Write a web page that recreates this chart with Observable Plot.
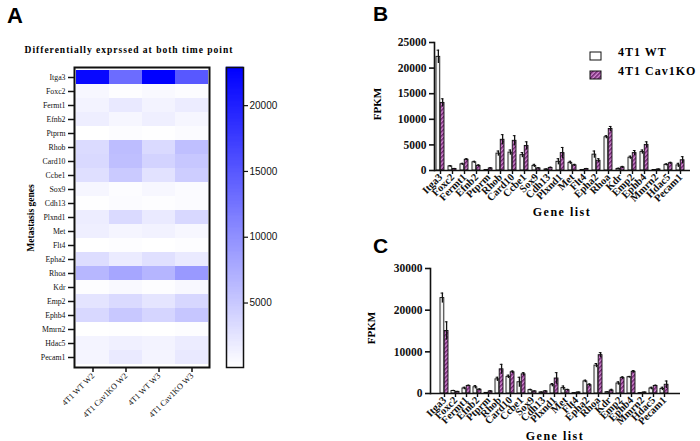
<!DOCTYPE html>
<html>
<head>
<meta charset="utf-8">
<script src="https://cdn.jsdelivr.net/npm/d3@7"></script>
<script src="https://cdn.jsdelivr.net/npm/@observablehq/plot@0.6"></script>
<style>
  html, body { margin: 0; padding: 0; background: #fff; }
  #fig { position: relative; width: 700px; height: 441px; overflow: hidden; background: #fff; }
  .abs { position: absolute; }
</style>
</head>
<body>
<svg width="0" height="0" style="position:absolute">
  <defs>
    <pattern id="hatch" patternUnits="userSpaceOnUse" width="3" height="3" patternTransform="rotate(45)">
      <rect width="3" height="3" fill="#d08ad0"></rect>
      <rect width="1.5" height="3" fill="#6e226e"></rect>
    </pattern>
  </defs>
</svg>
<div id="fig"></div>
<script>
// ---------- data ----------
const genes = ["Itga3","Foxc2","Fermt1","Efnb2","Ptprm","Rhob","Card10","Ccbe1","Sox9","Cdh13","Plxnd1","Met","Flt4","Epha2","Rhoa","Kdr","Emp2","Ephb4","Mmrn2","Hdac5","Pecam1"];
const heatColumns = ["4T1 WT W2","4T1 Cav1KO W2","4T1 WT W3","4T1 Cav1KO W3"];
const groups = ["4T1 WT","4T1 Cav1KO"];

// Panel B (W2)
const wtW2    = [22200, 800, 1200, 1600, 100, 3300, 3500, 3000, 900, 200, 1700, 1500, 100, 3100, 6500, 300, 2500, 3600, 100, 1100, 1000];
const wtW2Err = [1300, 150, 200, 200, 100, 500, 500, 500, 300, 100, 600, 300, 100, 700, 300, 150, 300, 400, 50, 200, 400];
const koW2    = [13200, 300, 2100, 900, 400, 6000, 5800, 4800, 400, 500, 3400, 1000, 300, 1900, 8100, 600, 3400, 5000, 200, 1400, 2000];
const koW2Err = [800, 100, 200, 200, 150, 1000, 1000, 800, 150, 150, 1100, 200, 100, 400, 500, 200, 500, 600, 80, 200, 700];

// Panel C (W3)
const wtW3    = [22900, 600, 1200, 1500, 150, 3400, 4000, 2700, 800, 250, 2000, 1300, 100, 2900, 6700, 300, 2400, 3900, 100, 1200, 1100];
const wtW3Err = [1200, 150, 300, 400, 50, 500, 400, 1200, 200, 100, 400, 500, 50, 300, 500, 100, 400, 200, 50, 300, 400];
const koW3    = [15000, 400, 1800, 900, 500, 5800, 5100, 4600, 500, 500, 3600, 800, 250, 2000, 9200, 700, 3700, 5200, 250, 1800, 2100];
const koW3Err = [2200, 100, 200, 200, 150, 1200, 300, 400, 100, 150, 1400, 200, 80, 300, 600, 300, 300, 300, 80, 200, 900];

const ticksB = [0, 5000, 10000, 15000, 20000, 25000];
const ticksC = [0, 10000, 20000, 30000];
const legendTicks = [5000, 10000, 15000, 20000];

// ---------- helpers ----------
const fig = document.getElementById("fig");
function place(node, left, top) {
  const d = document.createElement("div");
  d.className = "abs";
  d.style.left = left + "px";
  d.style.top = top + "px";
  d.appendChild(node);
  fig.appendChild(d);
  return d;
}
function text(str, left, top, css) {
  const d = document.createElement("div");
  d.className = "abs";
  d.textContent = str;
  d.style.left = left + "px";
  d.style.top = top + "px";
  Object.assign(d.style, css || {});
  fig.appendChild(d);
  return d;
}

// ---------- Panel A: heatmap ----------
const cells = [];
const heatSeries = [wtW2, koW2, wtW3, koW3];
genes.forEach((g, i) => heatColumns.forEach((c, j) => cells.push({gene: g, col: c, value: heatSeries[j][i]})));
const vmin = d3.min(cells, d => d.value);
const vmax = d3.max(cells, d => d.value);
const colorOpts = {type: "linear", domain: [vmin, vmax], range: ["#ffffff", "#0000ff"], interpolate: "rgb"};

const heat = Plot.plot({
  width: 215, height: 441,
  marginLeft: 74, marginRight: 6, marginTop: 67, marginBottom: 74,
  style: {background: "transparent", overflow: "visible", fontFamily: "Liberation Serif, serif", color: "#111"},
  x: {domain: heatColumns, padding: 0, axis: null},
  y: {domain: genes, padding: 0, axis: null},
  color: colorOpts,
  marks: [
    Plot.cell(cells, {x: "col", y: "gene", fill: "value"}),
    Plot.frame({stroke: "#111", strokeWidth: 2}),
    Plot.axisY({tickSize: 6, tickPadding: 3, fontSize: 7.8, strokeWidth: 1.5, label: null}),
    Plot.axisX({tickSize: 5, tickPadding: 2, tickRotate: -45, fontSize: 8.3, strokeWidth: 1.5, label: null})
  ]
});
place(heat, 0, 0);

// colour bar
const nStops = 300;
const stops = d3.range(nStops + 1).map(i => vmin + (vmax - vmin) * i / nStops);
const bar = Plot.plot({
  width: 100, height: 441,
  marginLeft: 26, marginRight: 57, marginTop: 67, marginBottom: 74,
  style: {background: "transparent", overflow: "visible", fontFamily: "Liberation Sans, Arial, sans-serif", color: "#111"},
  y: {domain: [vmin, vmax], axis: null},
  color: colorOpts,
  marks: [
    Plot.rect(stops.slice(0, -1), {y1: d => d, y2: (d, i) => stops[i + 1], fill: d => d, stroke: d => d, strokeWidth: 0.6}),
    Plot.frame({stroke: "#111", strokeWidth: 1.5}),
    Plot.axisY({anchor: "right", ticks: legendTicks, tickSize: 4, tickPadding: 2, fontSize: 10, tickFormat: d => String(d), label: null, strokeWidth: 1.2})
  ]
});
place(bar, 200, 0);

text("Differentially exprssed at both time point", 0, 45, {width: "258px", textAlign: "center", fontFamily: "Liberation Serif, serif", fontWeight: "bold", fontSize: "9.5px", letterSpacing: "1px", whiteSpace: "nowrap"});
text("Metastasis genes", 31, 218, {fontFamily: "Liberation Serif, serif", fontWeight: "bold", fontSize: "9.5px", transform: "translate(-50%,-50%) rotate(-90deg)", whiteSpace: "nowrap"});

// ---------- Panels B and C: grouped bars ----------
function barPanel(wt, wtErr, ko, koErr, o) {
  const rows = genes.map((g, i) => ({gene: g, wt: wt[i], wtErr: wtErr[i], ko: ko[i], koErr: koErr[i]}));
  const half = o.band / 2;
  return Plot.plot({
    width: o.width, height: o.height,
    marginLeft: o.ml, marginRight: o.mr, marginTop: o.mt, marginBottom: o.mb,
    style: {background: "transparent", overflow: "visible", fontFamily: "Liberation Serif, serif", fontWeight: "bold", color: "#111"},
    x: {domain: genes, paddingInner: 0.3, paddingOuter: 0, insetRight: o.insetRight, axis: null},
    y: {domain: [0, o.yMax], axis: null},
    marks: [
      Plot.rectY(rows, {x: "gene", y: "wt", fill: "#f4f4f4", stroke: "#111", strokeWidth: 0.9, insetRight: half}),
      Plot.rectY(rows, {x: "gene", y: "ko", fill: "url(#hatch)", stroke: "#111", strokeWidth: 0.9, insetLeft: half}),
      Plot.ruleX(rows, {x: "gene", y1: d => d.wt - d.wtErr, y2: d => d.wt + d.wtErr, dx: -half / 2, stroke: "#111", strokeWidth: 1.3}),
      Plot.ruleX(rows, {x: "gene", y1: d => d.ko - d.koErr, y2: d => d.ko + d.koErr, dx: half / 2, stroke: "#111", strokeWidth: 1.3}),
      Plot.tickY(rows, {x: "gene", y: d => d.wt + d.wtErr, insetLeft: 0.6, insetRight: half + 0.6, stroke: "#111", strokeWidth: 1}),
      Plot.tickY(rows, {x: "gene", y: d => d.ko + d.koErr, insetLeft: half + 0.6, insetRight: 0.6, stroke: "#111", strokeWidth: 1}),
      Plot.ruleY([0], {stroke: "#111", strokeWidth: 1.6}),
      Plot.frame({anchor: "left", stroke: "#111", strokeWidth: 1.6}),
      Plot.axisY({ticks: o.ticks, tickSize: 5, tickPadding: 3, fontSize: 11.5, tickFormat: d => String(d), label: null, strokeWidth: 1.6, style: {letterSpacing: "0.8px"}}),
      Plot.axisX({tickSize: 4, tickPadding: 1, tickRotate: -45, fontSize: 10.5, label: null, strokeWidth: 1.4})
    ]
  });
}

const plotB = barPanel(wtW2, wtW2Err, koW2, koW2Err, {width: 340, height: 220, ml: 74, mr: 10, mt: 42, mb: 50, insetRight: 4, band: 8.5, yMax: 25000, ticks: ticksB});
place(plotB, 360, 0);
const plotC = barPanel(wtW3, wtW3Err, koW3, koW3Err, {width: 340, height: 221, ml: 70, mr: 20, mt: 48, mb: 48, insetRight: 2.5, band: 8.4, yMax: 30000, ticks: ticksC});
place(plotC, 360, 220);

// axis titles
const titleCss = {fontFamily: "Liberation Serif, serif", fontWeight: "bold", fontSize: "12px", letterSpacing: "1.5px", transform: "translate(-50%,-50%)", whiteSpace: "nowrap"};
text("Gene list", 562, 212, titleCss);
text("Gene list", 555, 436, titleCss);
const fpkmCss = {fontFamily: "Liberation Serif, serif", fontWeight: "bold", fontSize: "11px", transform: "translate(-50%,-50%) rotate(-90deg)", whiteSpace: "nowrap"};
text("FPKM", 377, 104, fpkmCss);
text("FPKM", 371, 328, fpkmCss);

// legend for B
const legCss = {fontFamily: "Liberation Serif, serif", fontWeight: "bold", fontSize: "12px", letterSpacing: "1px", transform: "translateY(-50%)", whiteSpace: "nowrap"};
const legendFills = ["white", "url(#hatch)"];
groups.forEach((g, i) => {
  const y = 52 + i * 19;
  const sw = document.createElementNS("http://www.w3.org/2000/svg", "svg");
  sw.setAttribute("width", 13); sw.setAttribute("height", 10);
  const r = document.createElementNS("http://www.w3.org/2000/svg", "rect");
  r.setAttribute("x", 1); r.setAttribute("y", 1); r.setAttribute("width", 11); r.setAttribute("height", 8);
  r.setAttribute("fill", legendFills[i]); r.setAttribute("stroke", "#111"); r.setAttribute("stroke-width", 1);
  sw.appendChild(r);
  place(sw, 589, y - 5);
  text(g, 618, y, legCss);
});

// panel letters
text("A", 7, 3, {fontFamily: "Liberation Sans, Arial, sans-serif", fontWeight: "bold", fontSize: "22px"});
text("B", 373, 2, {fontFamily: "Liberation Sans, Arial, sans-serif", fontWeight: "bold", fontSize: "21px"});
text("C", 373, 234, {fontFamily: "Liberation Sans, Arial, sans-serif", fontWeight: "bold", fontSize: "21px"});
</script>
</body>
</html>
